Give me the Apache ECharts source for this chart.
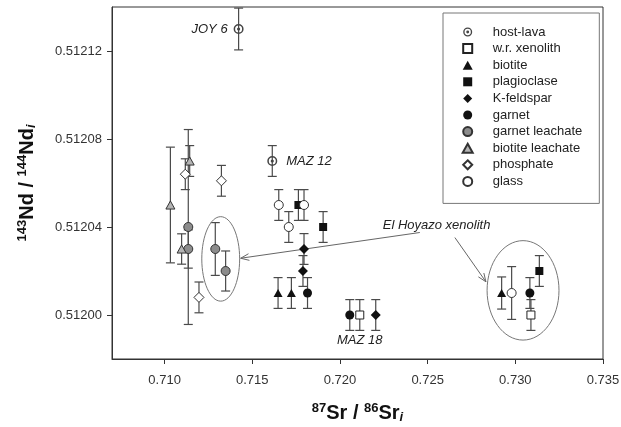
<!DOCTYPE html>
<html>
<head>
<meta charset="utf-8">
<script src="https://cdn.jsdelivr.net/npm/echarts@6/dist/echarts.min.js"></script>
<style>html,body{margin:0;padding:0;background:#fff;}#c{width:621px;height:427px;}</style>
</head>
<body>
<div id="c"></div>
<script>
// ---- data: [87Sr/86Sr_i, 143Nd/144Nd_i, 2-sigma error on Nd] ----
const categories = ['host-lava','w.r. xenolith','biotite','plagioclase','K-feldspar','garnet','garnet leachate','biotite leachate','phosphate','glass'];
const hostLava = [[0.71422,0.51213,0.0000095],[0.71614,0.51207,0.000007]];
const wrXenolith = [[0.72113,0.51200,0.000007],[0.73089,0.512,0.000007]];
const biotite = [[0.71647,0.51201,0.000007],[0.71723,0.51201,0.000007],[0.72922,0.51201,0.0000073]];
const plagioclase = [[0.71763,0.51205,0.000007],[0.71904,0.51204,0.000007],[0.73137,0.51202,0.000007]];
const kFeldspar = [[0.71795,0.51203,0.000007],[0.71789,0.51202,0.000007],[0.72204,0.51200,0.000007]];
const garnet = [[0.71815,0.51201,0.000007],[0.72056,0.51200,0.000007],[0.73083,0.51201,0.000007]];
const garnetLeachate = [[0.71135,0.51204,0.0000443],[0.71135,0.51203,0.0000087],[0.71289,0.51203,0.000012],[0.71348,0.51202,0.0000091]];
const biotiteLeachate = [[0.71033,0.51205,0.0000263],[0.71097,0.51203,0.0000069],[0.71143,0.51207,0.000007]];
const phosphate = [[0.71118,0.512064,0.000007],[0.71324,0.512061,0.000007],[0.71196,0.512008,0.000007]];
const glass = [[0.71651,0.51205,0.000007],[0.71795,0.51205,0.000007],[0.71708,0.51204,0.000007],[0.72979,0.51201,0.000012]];
const xTicks = [0.710,0.715,0.720,0.725,0.730,0.735];
const yTicks = [0.51200,0.51204,0.51208,0.51212];
// sample labels: [category, index, text]
const sampleLabels = [['host-lava',0,'JOY 6'],['host-lava',1,'MAZ 12'],['w.r. xenolith',0,'MAZ 18']];
// annotation geometry in data coordinates
const xenolithText = {text:'El Hoyazo xenolith', at:[0.72244,0.5120407]};
const ellipses = [{c:[0.7132,0.5120255], rx:0.00108, ry:0.0000192},{c:[0.73044,0.5120112], rx:0.00205, ry:0.0000226}];
const arrows = [[[0.724555,0.5120375],[0.714338,0.5120258]],[[0.726553,0.5120352],[0.728323,0.5120151]]];

const seriesData = [hostLava,wrXenolith,biotite,plagioclase,kFeldspar,garnet,garnetLeachate,biotiteLeachate,phosphate,glass];
const FONT = '"Liberation Sans", Arial, sans-serif';
const ringDot = 'path://M0,10A10,10,0,1,1,20,10A10,10,0,1,1,0,10ZM3,10A7,7,0,1,0,17,10A7,7,0,1,0,3,10ZM6.8,10A3.2,3.2,0,1,1,13.2,10A3.2,3.2,0,1,1,6.8,10Z';
const TRI = 'path://M5,0L10,9L0,9Z';
const SQ = 'path://M0,0L10,0L10,10L0,10Z';
const DIA = 'path://M5,0L10,5L5,10L0,5Z';
const styles = [
  {symbol:ringDot, size:10, color:'#444', border:null},
  {symbol:SQ, size:8, color:'#fff', border:'#222'},
  {symbol:TRI, size:9, color:'#111', border:null},
  {symbol:SQ, size:8, color:'#111', border:null},
  {symbol:DIA, size:10, color:'#111', border:null},
  {symbol:'circle', size:9, color:'#111', border:null},
  {symbol:'circle', size:9, color:'#8c8c8c', border:'#333'},
  {symbol:TRI, size:9, color:'#b4b4b4', border:'#333'},
  {symbol:DIA, size:10, color:'#fff', border:'#333'},
  {symbol:'circle', size:9, color:'#fff', border:'#333'}
];
const labelPos = {'JOY 6':{position:'left',distance:6}, 'MAZ 12':{position:'right',distance:9}, 'MAZ 18':{position:'bottom',distance:14}};

const errData = [];
seriesData.forEach(a => a.forEach(p => errData.push(p)));

const series = [{
  type:'custom', z:1, silent:true,
  data: errData,
  encode:{x:0,y:1},
  renderItem: function(params, api){
    const x = api.value(0), y = api.value(1), e = api.value(2);
    const t = api.coord([x, y+e]), b = api.coord([x, y-e]);
    const w = 4.5, st = {stroke:'#4a4a4a', lineWidth:1.2};
    return {type:'group', children:[
      {type:'line', shape:{x1:t[0],y1:t[1],x2:b[0],y2:b[1]}, style:st},
      {type:'line', shape:{x1:t[0]-w,y1:t[1],x2:t[0]+w,y2:t[1]}, style:st},
      {type:'line', shape:{x1:b[0]-w,y1:b[1],x2:b[0]+w,y2:b[1]}, style:st}
    ]};
  }
}];
categories.forEach((name, i) => {
  const s = styles[i];
  const data = seriesData[i].map((p, j) => {
    const item = {value:[p[0], p[1]]};
    const lab = sampleLabels.find(l => l[0] === name && l[1] === j);
    if (lab) {
      item.label = Object.assign({show:true, formatter:lab[2], fontStyle:'italic', fontSize:13, color:'#222', fontFamily:FONT}, labelPos[lab[2]]);
    }
    return item;
  });
  series.push({
    type:'scatter', name:name, z:3, symbol:s.symbol, symbolSize:s.size, symbolKeepAspect:true,
    itemStyle:{color:s.color, borderColor:s.border || s.color, borderWidth:s.border ? 1 : 0, opacity:1},
    data:data
  });
});

const titleRich = {
  sup:{fontSize:13, fontWeight:'bold', verticalAlign:'top', lineHeight:12, fontFamily:FONT, color:'#111'},
  b:{fontSize:20, fontWeight:'bold', lineHeight:22, fontFamily:FONT, color:'#111'},
  sub:{fontSize:13, fontWeight:'bold', fontStyle:'italic', verticalAlign:'bottom', lineHeight:10, fontFamily:FONT, color:'#111'}
};

const chart = echarts.init(document.getElementById('c'), null, {renderer:'canvas'});
chart.setOption({
  animation:false,
  backgroundColor:'#fff',
  grid:{left:112, right:18, top:7, bottom:68, show:true, borderColor:'#333', borderWidth:1, outerBoundsMode:'none', containLabel:false},
  legend:{
    data:categories, orient:'vertical', left:443, top:13,
    itemWidth:40, itemHeight:9, itemGap:0, symbolKeepAspect:true,
    padding:[10.7,17,13.7,18.7],
    borderColor:'#777', borderWidth:1,
    textStyle:{fontSize:13, fontFamily:FONT, color:'#222', lineHeight:16.6},
    selectedMode:false
  },
  xAxis:{
    type:'value', min:0.707, max:0.735,
    name:'{sup|87}{b|Sr / }{sup|86}{b|Sr}{sub|i}', nameLocation:'middle', nameGap:43,
    nameTextStyle:{rich:titleRich},
    axisLine:{show:true, lineStyle:{color:'#333'}},
    axisTick:{show:true, inside:false, length:5, customValues:xTicks, lineStyle:{color:'#333'}},
    axisLabel:{customValues:xTicks, formatter:v => v.toFixed(3), fontSize:13, fontFamily:FONT, color:'#333', margin:15},
    splitLine:{show:false}
  },
  yAxis:{
    type:'value', min:0.51198, max:0.51214,
    name:'{sup|143}{b|Nd / }{sup|144}{b|Nd}{sub|i}', nameLocation:'middle', nameGap:74,
    nameTextStyle:{rich:titleRich},
    axisLine:{show:true, lineStyle:{color:'#333'}},
    axisTick:{show:true, inside:false, length:5, customValues:yTicks, lineStyle:{color:'#333'}},
    axisLabel:{customValues:yTicks, formatter:v => v.toFixed(5), fontSize:13, fontFamily:FONT, color:'#333', margin:10},
    splitLine:{show:false}
  },
  series:series
});

function px(p){ return chart.convertToPixel({gridIndex:0}, p); }
const graphics = [];
ellipses.forEach(e => {
  const c = px(e.c), r = px([e.c[0]+e.rx, e.c[1]+e.ry]);
  graphics.push({type:'ellipse', z:2, silent:true, shape:{cx:c[0], cy:c[1], rx:Math.abs(r[0]-c[0]), ry:Math.abs(c[1]-r[1])}, style:{fill:'none', stroke:'#777', lineWidth:1}});
});
arrows.forEach(a => {
  const p0 = px(a[0]), p1 = px(a[1]);
  const ang = Math.atan2(p1[1]-p0[1], p1[0]-p0[0]);
  const L = 9, h = 0.38;
  const l1 = [p1[0]-L*Math.cos(ang-h), p1[1]-L*Math.sin(ang-h)];
  const l2 = [p1[0]-L*Math.cos(ang+h), p1[1]-L*Math.sin(ang+h)];
  graphics.push({type:'line', z:2, silent:true, shape:{x1:p0[0],y1:p0[1],x2:p1[0],y2:p1[1]}, style:{stroke:'#666', lineWidth:1}});
  graphics.push({type:'polyline', z:2, silent:true, shape:{points:[l1,p1,l2]}, style:{fill:'none', stroke:'#666', lineWidth:1}});
});
const tp = px(xenolithText.at);
graphics.push({type:'text', z:2, silent:true, x:tp[0], y:tp[1], style:{text:xenolithText.text, fontSize:13, fontStyle:'italic', fontFamily:FONT, fill:'#222', align:'left', verticalAlign:'middle'}});
chart.setOption({graphic:graphics});
</script>
</body>
</html>
